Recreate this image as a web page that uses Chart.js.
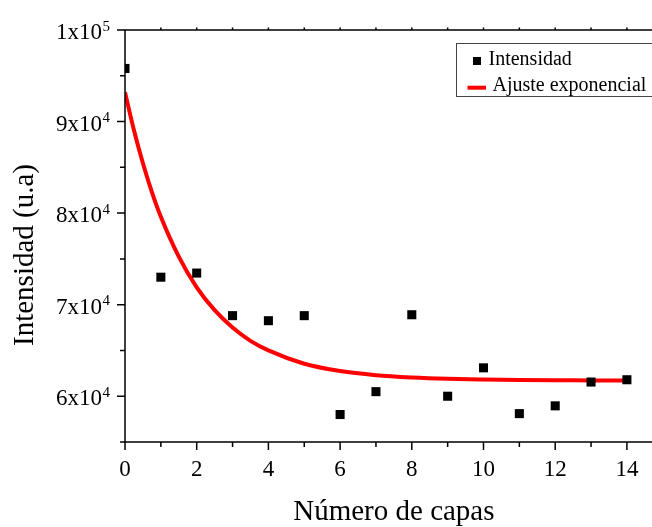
<!DOCTYPE html>
<html>
<head>
<meta charset="utf-8">
<style>
  html, body { margin: 0; padding: 0; background: #fff; }
</style>
</head>
<body>
<canvas id="myChart" width="652" height="527"></canvas>
<script src="https://cdn.jsdelivr.net/npm/chart.js@4.4.0/dist/chart.umd.min.js"></script>
<script>
    // Measured intensity per number of layers
    const capas = [0, 1, 2, 3, 4, 5, 6, 7, 8, 9, 10, 11, 12, 13, 14];
    const intensidad = [95800, 73000, 73450, 68800, 68250, 68800, 58000, 60500,
                        68900, 60000, 63100, 58100, 58950, 61550, 61800];

    // Exponential fit curve, sampled
    const ajusteX = [0, 0.25, 0.5, 0.75, 1, 1.5, 2, 2.5, 3, 3.5, 4, 5, 6, 7, 8, 9, 10, 11, 12, 13, 14];
    const ajusteY = [93200, 89050, 85450, 82300, 79600, 75250, 71900, 69400, 67500, 66050,
                     65000, 63550, 62750, 62300, 62050, 61900, 61820, 61770, 61740, 61730, 61720];

    const xTicks = [0, 2, 4, 6, 8, 10, 12, 14];
    const yTicks = [60000, 70000, 80000, 90000, 100000];

    const serif = '"Liberation Serif", "Times New Roman", serif';

    var puntos = [];
    for (var i = 0; i < capas.length; i++) {
        puntos.push({x: capas[i], y: intensidad[i]});
    }
    var curva = [];
    for (var i = 0; i < ajusteX.length; i++) {
        curva.push({x: ajusteX[i], y: ajusteY[i]});
    }

    // Axes, ticks, labels and legend box drawn on top of the datasets
    const frame = {
        id: 'frame',
        afterDraw: (chart) => {
            const {ctx, chartArea: a, scales: {x, y}} = chart;
            ctx.save();
            ctx.strokeStyle = '#000';
            ctx.fillStyle = '#000';
            ctx.lineWidth = 1.5;

            // axis lines
            ctx.beginPath();
            ctx.moveTo(a.left, a.top);
            ctx.lineTo(a.left, a.bottom);
            ctx.moveTo(a.left - 0.75, a.bottom);
            ctx.lineTo(a.right, a.bottom);
            ctx.moveTo(a.left - 0.75, a.top);
            ctx.lineTo(a.right, a.top);
            ctx.stroke();

            // left ticks, major every 10000, minor in between
            ctx.beginPath();
            for (var v = 55000; v <= 100000; v += 5000) {
                const py = y.getPixelForValue(v);
                const len = (v % 10000 === 0) ? 8 : 5;
                ctx.moveTo(a.left, py);
                ctx.lineTo(a.left - len, py);
            }
            // bottom and top ticks
            for (var k = 0; k <= 14; k++) {
                const px = x.getPixelForValue(k);
                const len = (k % 2 === 0) ? 8 : 5;
                ctx.moveTo(px, a.bottom);
                ctx.lineTo(px, a.bottom + len);
                if (k > 0) {
                    ctx.moveTo(px, a.top);
                    ctx.lineTo(px, a.top - 2.5);
                }
            }
            ctx.stroke();

            // y tick labels as mantissa x 10^exp
            ctx.textAlign = 'right';
            ctx.textBaseline = 'alphabetic';
            for (const v of yTicks) {
                const py = y.getPixelForValue(v);
                const exp = Math.floor(Math.log10(v));
                const mant = Math.round(v / Math.pow(10, exp));
                ctx.font = '15px ' + serif;
                const supW = ctx.measureText(String(exp)).width;
                ctx.fillText(String(exp), 110, py + 0.5);
                ctx.font = '23px ' + serif;
                ctx.fillText(mant + 'x10', 110 - supW - 0.5, py + 9);
            }

            // x tick labels
            ctx.textAlign = 'center';
            ctx.font = '23px ' + serif;
            for (const t of xTicks) {
                ctx.fillText(String(t), x.getPixelForValue(t), 476);
            }

            // axis titles
            ctx.font = '29px ' + serif;
            ctx.fillText('Número de capas', x.getPixelForValue(7.5), 520);
            ctx.save();
            ctx.translate(33, 255);
            ctx.rotate(-Math.PI / 2);
            ctx.fillText('Intensidad (u.a)', 0, 0);
            ctx.restore();

            // legend
            ctx.lineWidth = 1;
            ctx.strokeStyle = '#444';
            ctx.strokeRect(456.5, 43.5, 210, 53);
            ctx.fillStyle = '#000';
            ctx.fillRect(473, 57, 8, 8);
            ctx.strokeStyle = '#ff0000';
            ctx.lineWidth = 4;
            ctx.beginPath();
            ctx.moveTo(467.5, 87.7);
            ctx.lineTo(486, 87.7);
            ctx.stroke();
            ctx.textAlign = 'left';
            ctx.font = '20px ' + serif;
            ctx.fillText('Intensidad', 488.5, 65);
            ctx.fillText('Ajuste exponencial', 492.5, 91);

            ctx.restore();
        }
    };

    const chart = new Chart(document.getElementById('myChart'), {
        type: 'scatter',
        plugins: [frame],
        data: {
            datasets: [
            {
                label: 'Intensidad',
                data: puntos,
                pointStyle: 'rect',
                pointRadius: 6.4,
                pointHoverRadius: 6.4,
                borderWidth: 0,
                backgroundColor: '#000',
                borderColor: '#000',
                clip: 0
            },
            {
                label: 'Ajuste exponencial',
                data: curva,
                showLine: true,
                pointRadius: 0,
                borderWidth: 4,
                borderColor: '#ff0000',
                backgroundColor: '#ff0000',
                cubicInterpolationMode: 'monotone',
                clip: 0
            }
            ]
        },
        options: {
            responsive: false,
            animation: false,
            devicePixelRatio: 1,
            layout: {
                autoPadding: false,
                padding: { left: 125, top: 30, right: 0, bottom: 85 }
            },
            plugins: {
                legend: { display: false },
                tooltip: { enabled: false }
            },
            scales: {
                x: { type: 'linear', min: 0, max: 14.7, display: false },
                y: { type: 'linear', min: 55000, max: 100000, display: false }
            }
        }
    });
</script>
</body>
</html>
